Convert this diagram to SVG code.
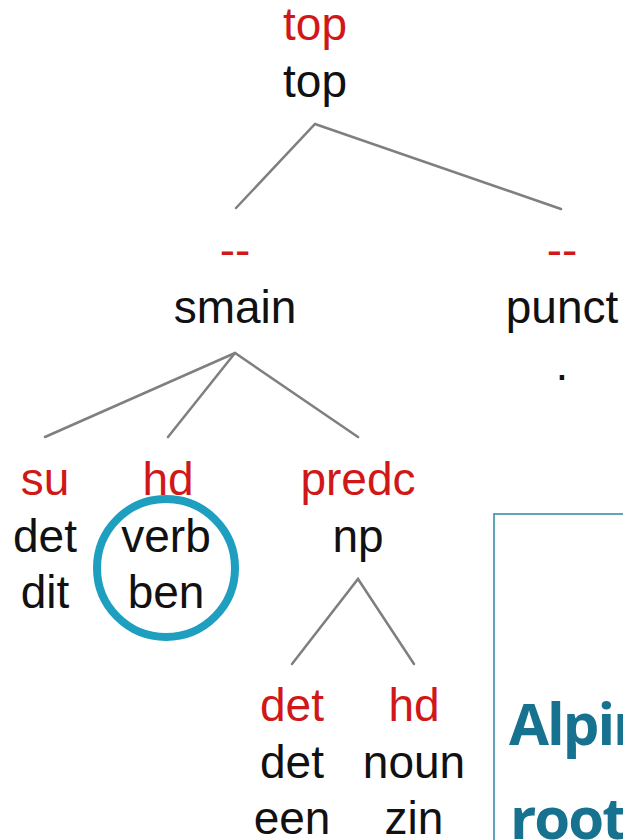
<svg xmlns="http://www.w3.org/2000/svg" width="623" height="840" viewBox="0 0 623 840">
  <style>
    text { font-family: "Liberation Sans", Arial, sans-serif; font-size: 46px; text-anchor: middle; }
    .rel { fill: #d01818; }
    .cat { fill: #111111; }
    .edge { stroke: #7f7f7f; stroke-width: 2.5; fill: none; stroke-linecap: round; }
    .mark { fill: none; stroke: #1e9fc0; stroke-width: 8; }
    .panel { fill: #ffffff; stroke: #3a8fa8; stroke-width: 1.6; }
    .title { font-family: "Open Sans", "Noto Sans", sans-serif; font-weight: bold; font-size: 58px; letter-spacing: -2px; fill: #17728f; text-anchor: start; }
  </style>
  <rect width="623" height="840" fill="#ffffff"/>

  <g id="connectors">
    <polyline class="edge" points="236,208 315,124 561,209"/>
    <polyline class="edge" points="45,437 235,353 358,437"/>
    <line class="edge" x1="235" y1="353" x2="168" y2="437"/>
    <polyline class="edge" points="292,664 358,579 414,664"/>
  </g>

  <g id="node-top">
    <text class="rel" x="315" y="40">top</text>
    <text class="cat" x="315" y="97">top</text>
  </g>
  <g id="node-smain">
    <text class="rel" x="235" y="266">--</text>
    <text class="cat" x="235" y="323">smain</text>
  </g>
  <g id="node-punct">
    <text class="rel" x="562" y="266">--</text>
    <text class="cat" x="562" y="323">punct</text>
    <text class="cat" x="562" y="380">.</text>
  </g>
  <g id="node-su">
    <text class="rel" x="45" y="495">su</text>
    <text class="cat" x="45" y="552">det</text>
    <text class="cat" x="45" y="608">dit</text>
  </g>
  <g id="node-hd-verb">
    <text class="rel" x="168" y="495">hd</text>
    <text class="cat" x="166" y="552">verb</text>
    <text class="cat" x="166" y="608">ben</text>
    <circle class="mark" cx="166" cy="568" r="69"/>
  </g>
  <g id="node-predc">
    <text class="rel" x="358" y="495">predc</text>
    <text class="cat" x="358" y="552">np</text>
  </g>
  <g id="node-det">
    <text class="rel" x="292" y="721">det</text>
    <text class="cat" x="292" y="778">det</text>
    <text class="cat" x="292" y="834">een</text>
  </g>
  <g id="node-hd-noun">
    <text class="rel" x="414" y="721">hd</text>
    <text class="cat" x="414" y="778">noun</text>
    <text class="cat" x="414" y="834">zin</text>
  </g>

  <g id="panel">
    <rect class="panel" x="494" y="514" width="160" height="360"/>
    <text class="title" x="509" y="745">Alpino</text>
    <text class="title" x="510" y="839">root</text>
  </g>
</svg>
